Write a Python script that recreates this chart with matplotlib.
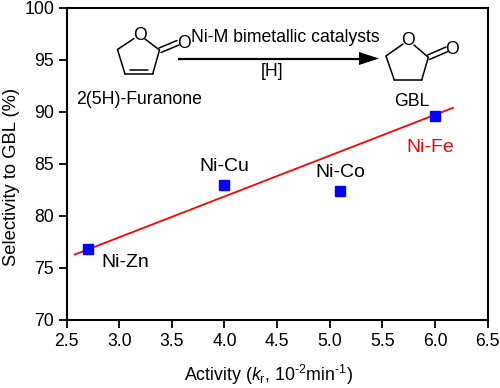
import matplotlib
matplotlib.use("Agg")
import matplotlib.pyplot as plt
from matplotlib.patches import Polygon

plt.rcParams["font.family"] = ["Liberation Sans", "DejaVu Sans"]
plt.rcParams["mathtext.fontset"] = "custom"
plt.rcParams["mathtext.rm"] = "Liberation Sans"
plt.rcParams["mathtext.it"] = "Liberation Sans:italic"
plt.rcParams["mathtext.default"] = "regular"

# data
catalysts = ["Ni-Zn", "Ni-Cu", "Ni-Co", "Ni-Fe"]
activity = [2.7, 4.0, 5.1, 6.0]
selectivity = [76.8, 83.0, 82.4, 89.6]
fit_x = [2.58, 6.17]
fit_y = [76.3, 90.4]
x_ticks = [2.5, 3.0, 3.5, 4.0, 4.5, 5.0, 5.5, 6.0, 6.5]
y_ticks = [70, 75, 80, 85, 90, 95, 100]

W, H = 500, 388
FS = 12.7
FS_LABEL = 14

fig = plt.figure(figsize=(W / 100, H / 100), dpi=100)
ax = fig.add_axes([66.5 / W, 1 - 320 / H, (487.7 - 66.5) / W, (320 - 8) / H])

ax.plot(fit_x, fit_y, color="#ff0000", lw=1.3, zorder=2)
ax.plot(activity, selectivity, ls="none", marker="s", ms=7.6, mfc="#0000ff", mec="#0000ff", zorder=3)

ax.set_xlim(2.5, 6.5)
ax.set_ylim(70, 100)
ax.set_xticks(x_ticks)
ax.set_xticklabels([f"{v:.1f}" for v in x_ticks])
ax.set_yticks(y_ticks)
ax.tick_params(axis="both", direction="out", length=5.5, width=1.3, labelsize=FS, pad=3.5)
for s in ax.spines.values():
    s.set_linewidth(1.5)

# point labels
ax.text(2.83, 75.5, catalysts[0], fontsize=FS_LABEL, ha="left", va="center")
ax.text(4.0, 84.8, catalysts[1], fontsize=FS_LABEL, ha="center", va="center")
ax.text(5.1, 84.2, catalysts[2], fontsize=FS_LABEL, ha="center", va="center")
ax.text(5.73, 86.6, catalysts[3], fontsize=FS_LABEL, ha="left", va="center", color="#ff0000")

# reaction scheme and axis titles, placed in figure pixels
ov = fig.add_axes([0, 0, 1, 1], facecolor="none")
ov.set_xlim(0, W)
ov.set_ylim(H, 0)
ov.axis("off")

ov.text(269, 375, r"Activity ($\mathit{k}_{r}$, 10$^{\text{-}2}$min$^{\text{-}1}$)",
        fontsize=12.8, ha="center", va="center")
ov.text(12, 177, "Selectivity to GBL (%)", fontsize=13.2, rotation=90, ha="center", va="center")


def bonds(segments, lw=1.1):
    for (x0, y0), (x1, y1) in segments:
        ov.plot([x0, x1], [y0, y1], color="black", lw=lw, solid_capstyle="round")


# 2(5H)-furanone
bonds([
    ((134, 38.5), (117.5, 49.5)),
    ((117.5, 49.5), (125, 74)),
    ((125, 74), (152.7, 74)),
    ((152.7, 74), (159.5, 50)),
    ((159.5, 50), (145, 39)),
    ((129.5, 69.5), (148, 69.5)),
    ((159, 48), (177, 40.5)),
    ((161, 52.5), (179, 45)),
])
ov.text(139.5, 35, "O", fontsize=FS, ha="center", va="center")
ov.text(183.5, 43, "O", fontsize=FS, ha="center", va="center")
ov.text(76, 99, "2(5H)-Furanone", fontsize=FS, ha="left", va="center")

# arrow
ov.plot([179, 362], [58.5, 58.5], color="black", lw=1.6)
ov.add_patch(Polygon([[359, 52], [379, 58.5], [359, 65]], closed=True, fc="black", ec="none"))
ov.text(191, 38, "Ni-M bimetallic catalysts", fontsize=FS, ha="left", va="center")
ov.text(272, 72, "[H]", fontsize=FS, ha="center", va="center")

# GBL
bonds([
    ((403, 44), (386, 56)),
    ((386, 56), (394.3, 80)),
    ((394.3, 80), (421.7, 80)),
    ((421.7, 80), (428.3, 57.3)),
    ((428.3, 57.3), (414, 45)),
    ((427.5, 55), (446, 47)),
    ((429.5, 59.5), (448, 51.5)),
])
ov.text(408.3, 40.7, "O", fontsize=FS, ha="center", va="center")
ov.text(452.3, 49, "O", fontsize=FS, ha="center", va="center")
ov.text(411.5, 101, "GBL", fontsize=FS, ha="center", va="center")

fig.savefig("out.png", dpi=100)
